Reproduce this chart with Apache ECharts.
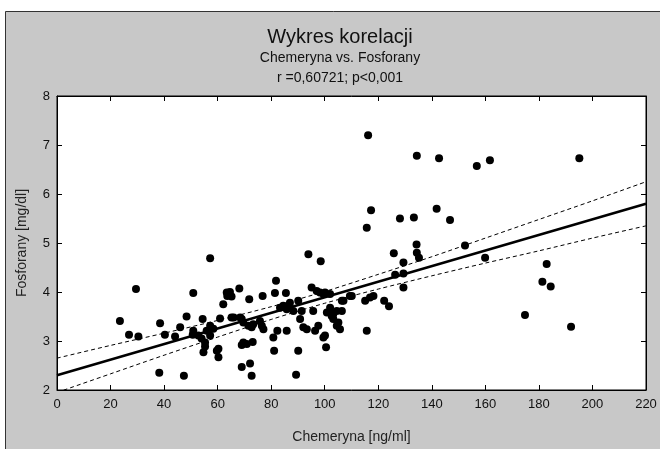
<!DOCTYPE html>
<html>
<head>
<meta charset="utf-8">
<script src="https://cdn.jsdelivr.net/npm/echarts@6/dist/echarts.min.js"></script>
<style>
  html, body { margin: 0; padding: 0; background: #fff; }
  #chart { width: 660px; height: 449px; }
</style>
</head>
<body>
<div id="chart"></div>
<script>
// scatter points: [Chemeryna, Fosforany]
var points = [
  [23.5,3.41],[26.9,3.13],[29.5,4.06],[30.4,3.09],[38.2,2.35],[38.5,3.36],[40.3,3.13],
  [44.1,3.09],[46,3.28],[47.4,2.29],[48.4,3.5],
  [50.7,3.13],[50.9,3.98],[50.9,3.21],[52.8,3.11],[54,3.05],[54.4,3.45],[54.7,2.77],
  [55.3,2.89],[55.3,2.97],[55.9,3.21],[57.2,3.11],[57.2,3.31],[57.2,4.69],[58.4,3.25],
  [59.7,2.80],[60.3,2.67],[60.3,2.84],
  [60.9,3.46],[62.1,3.75],[63.4,3.99],[63.6,3.92],[64.6,4.0],[65.2,3.91],[65.2,3.48],
  [66,3.48],[68.1,4.07],[68.4,3.48],[69,3.45],[69,2.92],[69,2.47],[69.6,3.38],[69.6,2.97],
  [70.9,2.94],[71.5,3.31],[71.8,3.85],[72.1,2.54],[72.7,2.29],[72.7,3.28],[73.1,2.98],
  [73.3,3.34],[75.8,3.41],[76.5,3.31],[76.8,3.92],[77.1,3.24],
  [80.8,3.07],[81.1,2.80],[81.4,3.98],[81.8,4.23],[82.3,3.21],[83.3,3.68],[84.5,3.72],
  [85.5,3.98],[85.8,3.21],[85.8,3.65],[86.4,3.72],[87,3.78],[88.3,3.61],[89.3,2.31],
  [90.1,3.82],[90.1,2.80],[90.8,3.45],[91.4,3.61],[92,3.28],[93.3,3.24],[93.9,4.77],
  [95.1,4.09],[95.7,3.61],[96.4,3.21],[97,4.02],[97.6,3.31],[98.2,3.99],[98.5,4.63],
  [99.5,3.07],[99.5,3.96],
  [100.1,3.99],[100.1,3.11],[100.5,2.87],[100.8,3.58],[102,3.96],[102,3.68],[102.6,3.51],
  [103.2,3.45],[103.2,3.55],[104.5,3.31],[104.5,3.61],[105.1,3.38],[105.7,3.24],
  [106.4,3.61],[106.4,3.82],[107,3.82],[109.4,3.92],
  [110.1,3.92],[115.1,3.82],[115.7,3.21],[115.7,5.31],[116.2,7.2],[116.9,3.89],
  [117.3,5.67],[118.2,3.92],[122.2,3.82],[124,3.71],
  [125.8,4.79],[126.3,4.35],[128.1,5.5],[129.4,4.6],[129.4,4.38],[129.4,4.09],
  [133.3,5.52],[134.4,6.78],[134.3,4.97],[134.4,4.80],[135.2,4.70],[141.8,5.70],
  [142.7,6.73],[146.8,5.47],[152.4,4.95],[156.8,6.57],[159.9,4.70],[161.7,6.69],
  [174.8,3.53],[181.3,4.21],[182.9,4.57],[184.4,4.11],[192,3.29],[195.1,6.73]
];

// fitted line and 95% band
var fitX = [0, 220];
var fitY = [2.30, 5.80];
var bandX = [0, 20, 40, 60, 80, 100, 120, 140, 160, 180, 200, 220];
var upperY = [2.65, 2.91, 3.16, 3.42, 3.70, 4.01, 4.36, 4.72, 5.10, 5.48, 5.86, 6.25];
var lowerY = [1.95, 2.33, 2.71, 3.08, 3.44, 3.77, 4.06, 4.33, 4.59, 4.84, 5.10, 5.35];

var xTicks = [0, 220, 20];
var yTicks = [2, 8, 1];

function zipXY(xs, ys){
  return xs.map(function(x, i){ return [x, ys[i]]; });
}

var font = "'Liberation Sans', Arial, sans-serif";
var myChart = echarts.init(document.getElementById('chart'));

function axisBase(pos, ticks, showLabel){
  return {
    type: 'value',
    position: pos,
    min: ticks[0],
    max: ticks[1],
    interval: ticks[2],
    splitLine: { show: false },
    axisLine: { show: true, onZero: false, lineStyle: { color: '#000', width: 1 } },
    axisTick: { show: true, inside: true, length: 5, lineStyle: { color: '#000' } },
    axisLabel: { show: showLabel, color: '#111', fontSize: 13, fontFamily: font }
  };
}

var xBottom = axisBase('bottom', xTicks, true);
xBottom.name = 'Chemeryna [ng/ml]';
xBottom.nameLocation = 'middle';
xBottom.nameGap = 40;
xBottom.nameTextStyle = { color: '#222', fontSize: 14, fontFamily: font };
xBottom.axisLabel.margin = 8;

var yLeft = axisBase('left', yTicks, true);
yLeft.name = 'Fosforany [mg/dl]';
yLeft.nameLocation = 'middle';
yLeft.nameGap = 28;
yLeft.nameTextStyle = { color: '#222', fontSize: 14, fontFamily: font };
yLeft.axisLabel.margin = 7;

function titleText(str, y, size){
  return {
    type: 'text', x: 340, y: y, silent: true,
    style: { text: str, fill: '#111', font: size + 'px ' + font, align: 'center', verticalAlign: 'middle' }
  };
}

var option = {
  backgroundColor: '#fff',
  animation: false,
  graphic: [
    {
      type: 'rect', z: -10, silent: true,
      shape: { x: 5.5, y: 11.5, width: 700, height: 500 },
      style: { fill: '#c8c8c8', stroke: '#333', lineWidth: 1 }
    },
    titleText('Wykres korelacji', 37, 20),
    titleText('Chemeryna vs. Fosforany', 58, 14),
    titleText('r =0,60721; p<0,001', 78, 14)
  ],
  grid: {
    left: 57, right: 14, top: 96, bottom: 58,
    show: true, backgroundColor: '#fff', borderColor: '#000', borderWidth: 1
  },
  xAxis: [xBottom, axisBase('top', xTicks, false)],
  yAxis: [yLeft, axisBase('right', yTicks, false)],
  series: [
    {
      type: 'line', data: zipXY(bandX, upperY), symbol: 'none', smooth: 0.3,
      lineStyle: { color: '#000', width: 1, type: [4, 3] }
    },
    {
      type: 'line', data: zipXY(bandX, lowerY), symbol: 'none', smooth: 0.3,
      lineStyle: { color: '#000', width: 1, type: [4, 3] }
    },
    {
      type: 'line', data: zipXY(fitX, fitY), symbol: 'none',
      lineStyle: { color: '#000', width: 2.5 }
    },
    {
      type: 'scatter', data: points, symbol: 'circle', symbolSize: 8,
      itemStyle: { color: '#000', opacity: 1 }
    }
  ]
};
myChart.setOption(option);
</script>
</body>
</html>
